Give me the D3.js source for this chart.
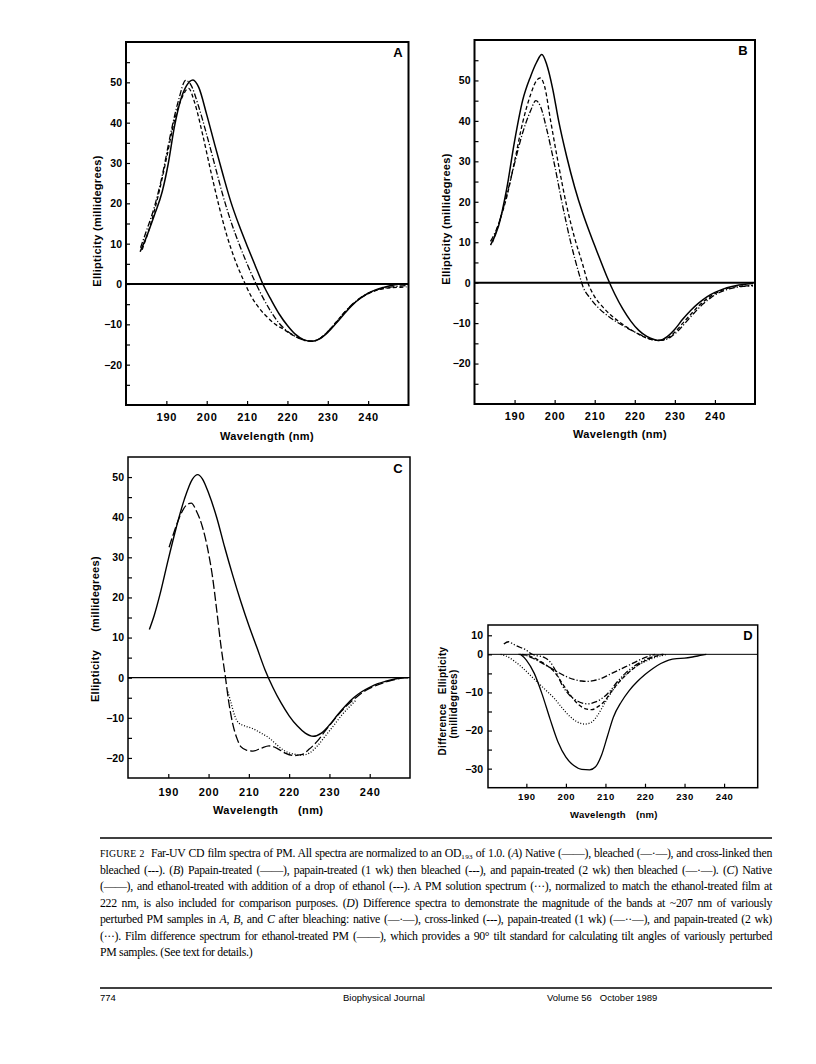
<!DOCTYPE html>
<html><head><meta charset="utf-8">
<script src="https://cdn.jsdelivr.net/npm/d3@7"></script>
<style>body{margin:0;background:#fff}svg{display:block}</style>
</head><body>
<svg id="page" width="816" height="1064"></svg>
<script>
// ---------------- DATA ----------------
const wavelengthTicks = [190, 200, 210, 220, 230, 240];
const abMajorTicks = [-20, -10, 0, 10, 20, 30, 40, 50];
const abMinorTicks = [-25, -15, -5, 5, 15, 25, 35, 45, 55];
const cMajorTicks = [-20, -10, 0, 10, 20, 30, 40, 50];
const cMinorTicks = [-15, -5, 5, 15, 25, 35, 45];
const dMajorTicks = [5, 0, -10, -20, -30];
const dMajorLabels = ["10", "0", "−10", "−20", "−30"];
const dMinorTicks = [-5, -15, -25];

// Panel A
const A_native = [[183.5,8],[185,11.5],[187,17],[189,23],[190.5,30],[192,39],[193.5,45.5],[195,49.2],[196.6,50.6],[198,48.8],[200,42],[202,34.5],[204,27.2],[206,20.3],[208,14.6],[210,9.5],[212,4.6],[214,-0.2],[216,-4],[218,-7.5],[220,-10.3],[222,-12.5],[224,-13.8],[226,-14.2],[228,-13.6],[230,-12],[232,-9.8],[234,-7.5],[236,-5.3],[238,-3.6],[240,-2.3],[242,-1.4],[244,-0.8],[246,-0.3],[248,0],[249.5,0]];
const A_bleached = [[183.6,9],[185,13],[187,19],[189,27],[191,37],[193,45.5],[194.8,50.5],[196,49.5],[198,44],[200,37],[202,29.5],[204,22],[206,15.5],[208,10],[210,5],[212,0.5],[214,-3.5],[216,-7],[218,-9.8],[220,-11.7],[222,-13],[224,-13.9],[226,-14.2],[228,-13.5],[230,-11.8],[232,-9.6],[234,-7.2],[236,-5.1],[238,-3.5],[240,-2.3],[242,-1.5],[244,-1],[246,-0.7],[248,-0.5],[249.5,-0.4]];
const A_crosslinked = [[184,8.5],[186,14.5],[188,22],[190,31],[192,40.5],[194,46.5],[195.5,48.5],[197,45],[199,37],[201,28],[203,19.5],[205,12],[207,6],[209,1.2],[211,-3],[213,-6],[215,-8.2],[217,-10],[219,-11.2],[221,-12.5],[223,-13.5],[225,-14.1],[226,-14.2],[228,-13.5],[230,-11.8],[232,-9.5],[234,-7.2],[236,-5.2],[238,-3.6],[240,-2.4],[242,-1.6],[244,-1.1],[246,-0.9],[248,-0.8],[249.5,-0.7]];

// Panel B
const B_papain = [[184,9.3],[186,14],[188,23],[190,35],[192,45],[194,51],[195.5,54.5],[196.8,56.4],[198,54],[199.5,48],[201,40],[203,31.2],[205,23.6],[207,17.2],[209,11.7],[211,6.6],[213,1.6],[215,-2.8],[217,-6.5],[219,-9.5],[221,-11.8],[223,-13.3],[225,-14.1],[226,-14.3],[228,-13.4],[230,-11.5],[232,-9],[234,-6.8],[236,-5],[238,-3.5],[240,-2.4],[242,-1.6],[244,-1],[246,-0.6],[248,-0.3],[249.5,-0.2]];
const B_papain1wk = [[184.5,10],[186,14.5],[188,21],[190,30],[192,39.5],[194,46.5],[195.5,50],[196.4,50.6],[197.5,48.5],[199,40],[201,29],[203,19],[205,11],[207,4.5],[208.3,0],[210,-3.5],[212,-6],[214,-8],[216,-9.6],[218,-11],[220,-12.2],[222,-13.3],[224,-14],[226,-14.3],[228,-13.8],[230,-12.2],[232,-10],[234,-7.8],[236,-5.7],[238,-4],[240,-2.7],[242,-1.8],[244,-1.2],[246,-0.9],[248,-0.8],[249.5,-0.8]];
const B_papain2wk = [[184,10.2],[186,14.5],[188,21.5],[190,29.5],[192,37],[194,42.5],[195.3,45],[196.5,43.5],[198,38],[200,29],[202,19],[204,10],[206,2.5],[207,-0.8],[209,-4],[211,-6.3],[213,-8],[215,-9.4],[217,-10.6],[219,-11.7],[221,-12.7],[223,-13.6],[225,-14.2],[227,-14.2],[229,-13.4],[231,-11.7],[233,-9.5],[235,-7.3],[237,-5.3],[239,-3.7],[241,-2.5],[243,-1.7],[245,-1.2],[247,-0.9],[249.5,-0.7]];

// Panel C
const C_native = [[185.3,12],[186.5,15.5],[188,21],[190,29.5],[192,37.5],[194,44.5],[196,49.5],[197.3,50.6],[198.5,49.5],[200,46],[202,40],[204,32.5],[206,25.5],[208,19],[210,13],[212,7.5],[214,2],[216,-2.5],[218,-6.3],[220,-9.5],[222,-12],[224,-13.8],[226,-14.6],[228,-13.8],[230,-11.8],[232,-9.3],[234,-7],[236,-5],[238,-3.5],[240,-2.4],[242,-1.5],[244,-0.9],[246,-0.4],[248,0],[249.5,0]];
const C_ethanol = [[190.2,32.5],[191.5,36.5],[193,40.5],[194.5,43],[195.7,43.5],[197,41.5],[198.5,37.5],[200,31],[201,25],[202,17],[203,8.5],[204.2,0],[205,-6],[206,-11.5],[207,-15],[208,-17.2],[209.5,-18.1],[211,-18.3],[213,-17.6],[215,-17],[217,-17.6],[219,-18.8],[221,-19.4],[223,-19.2],[225,-17.8],[227,-15.8],[229,-13.2],[231,-10.7],[233,-8.3],[235,-6.3],[237,-4.6],[239,-3.2],[241,-2.2],[243,-1.4],[245,-0.8],[247,-0.3],[248.5,0]];
const C_solution = [[204.8,-3.5],[205.5,-6],[206.5,-9.5],[207.5,-11.3],[209,-12],[211,-12.7],[213,-13.8],[215,-15],[217,-16.8],[219,-18.3],[221,-19],[223,-19.3],[225,-18.8],[227,-17],[229,-14.5],[231,-12],[233,-9.4],[235,-7.2],[236.5,-5.7]];

// Panel D
const D_ethanol = [[188.5,0],[190,-1.5],[192,-5],[194,-10.5],[196,-17],[198,-23],[200,-27],[202,-29.2],[204,-30.2],[206,-30.3],[207.5,-29.5],[209,-26.5],[210.5,-21.5],[212,-16.5],[214,-12.5],[216,-9.5],[218,-7.2],[220,-5.3],[222,-3.7],[224,-2.4],[226,-1.5],[228,-1.1],[230,-1],[232,-0.7],[234,-0.3],[235.5,0]];
const D_native = [[188,0],[190,-0.3],[192,-1.2],[194,-2.3],[196,-3.5],[198,-4.7],[200,-5.8],[202,-6.6],[204,-7],[205.5,-7.1],[207,-6.9],[209,-6.3],[211,-5.3],[213,-4.3],[215,-3.3],[217,-2.3],[219,-1.3],[221,-0.5],[222.5,0]];
const D_crosslinked = [[189,0],[191,-0.5],[193,-1.5],[195,-2.8],[197,-4.5],[199,-7.5],[201,-10.5],[203,-13],[205,-14.3],[206.5,-14.5],[208,-13.8],[210,-12],[211,-10.5],[213,-7.8],[215,-5.6],[217,-3.8],[219,-2.3],[221,-1.2],[223,-0.4],[224.7,0]];
const D_papain1wk = [[184.3,2.7],[185.5,3.3],[186.8,2.6],[188.5,1.8],[189.7,1.3],[191,0.3],[192.5,-0.3],[194.5,-0.8],[196,-2],[197.5,-4.5],[199,-8],[201,-10.8],[203,-12.3],[205.5,-13],[207.5,-12.5],[209.5,-11.3],[211,-9.8],[213,-7.2],[215,-5],[217,-3.3],[219,-2],[221,-1],[223,-0.3],[224.5,0]];
const D_papain2wk = [[183.5,0],[185,-0.5],[187,-1.8],[189,-3.5],[191,-5.5],[193,-7.5],[195,-9.5],[197,-11.5],[199,-14],[201,-16.3],[203,-17.8],[204.8,-18.3],[206.5,-17.8],[208,-16],[210,-12.5],[212,-9.2],[214,-6.6],[216,-4.6],[218,-3],[220,-1.9],[222,-1],[224,-0.4],[225.5,0]];

// ---------------- DRAWING ----------------
const svg = d3.select("#page");
const SANS = "'Liberation Sans', Arial, Helvetica, sans-serif";
const SERIF = "'Liberation Serif', 'DejaVu Serif', 'Times New Roman', serif";
const SOLID = null, DASH = "4,2.5", DASHDOT = "6,2,1.2,2", DOT = "1,1.8", DASHDOTDOT = "6,2,1.2,2,1.2,2", LONGDASH = "9,3";

function drawPanel(cfg) {
  const x = d3.scaleLinear().domain(cfg.xd).range(cfg.xr);
  const y = d3.scaleLinear().domain(cfg.yd).range(cfg.yr);
  const g = svg.append("g");
  const x0 = cfg.xr[0], x1 = cfg.xr[1], yT = cfg.yr[1], yB = cfg.yr[0];

  g.append("line").attr("x1", x0).attr("x2", x1).attr("y1", y(0)).attr("y2", y(0))
    .attr("stroke", "#000").attr("stroke-width", cfg.zeroW);

  const line = d3.line().x(d => x(d[0])).y(d => y(d[1])).curve(d3.curveMonotoneX);
  cfg.series.forEach(s => {
    g.append("path").attr("d", line(s.data)).attr("fill", "none")
      .attr("stroke", "#000").attr("stroke-width", s.w || 1.3)
      .attr("stroke-dasharray", s.dash).attr("stroke-linejoin", "round");
  });

  const ya = d3.axisLeft(y).tickValues(cfg.yMajor).tickSize(-4).tickPadding(cfg.yPad)
    .tickFormat(cfg.yLabels ? ((d, i) => cfg.yLabels[i]) : d3.format("d"));
  const yg = g.append("g").attr("transform", `translate(${x0},0)`).call(ya);
  yg.select(".domain").remove();
  yg.selectAll("text").attr("font-family", SANS).attr("font-weight", "bold").attr("font-size", cfg.yTickFs);
  yg.selectAll("line").attr("stroke-width", 1.2);
  const ym = d3.axisLeft(y).tickValues(cfg.yMinor).tickSize(-4).tickFormat("");
  const ymg = g.append("g").attr("transform", `translate(${x0},0)`).call(ym);
  ymg.select(".domain").remove();
  ymg.selectAll("line").attr("stroke-width", 1.2);

  const xa = d3.axisBottom(x).tickValues(wavelengthTicks).tickSize(-4).tickPadding(cfg.xPad).tickFormat(d3.format("d"));
  const xg = g.append("g").attr("transform", `translate(0,${yB})`).call(xa);
  xg.select(".domain").remove();
  xg.selectAll("text").attr("font-family", SANS).attr("font-weight", "bold").attr("font-size", cfg.xTickFs)
    .attr("letter-spacing", cfg.xTickLs);
  xg.selectAll("line").attr("stroke-width", 1.2);

  g.append("rect").attr("x", x0).attr("y", yT).attr("width", x1 - x0).attr("height", yB - yT)
    .attr("fill", "none").attr("stroke", "#000").attr("stroke-width", cfg.frameW);

  g.append("text").attr("x", cfg.letterPos[0]).attr("y", cfg.letterPos[1]).attr("text-anchor", "middle")
    .attr("font-family", SANS).attr("font-weight", "bold").attr("font-size", 13).text(cfg.letter);

  cfg.xTitle.forEach(t => {
    g.append("text").attr("x", t.x).attr("y", t.y).attr("text-anchor", t.anchor || "middle")
      .attr("font-family", SANS).attr("font-weight", "bold").attr("font-size", t.fs || 11)
      .attr("letter-spacing", t.ls == null ? 0.4 : t.ls).text(t.text);
  });
  cfg.yTitle.forEach(t => {
    g.append("text").attr("transform", `translate(${t.x},${t.y}) rotate(-90)`).attr("text-anchor", "middle")
      .attr("font-family", SANS).attr("font-weight", "bold").attr("font-size", t.fs || 11)
      .attr("letter-spacing", 0.3).attr("xml:space", "preserve").style("white-space", "pre").text(t.text);
  });
}

drawPanel({
  letter: "A", letterPos: [398, 57], xd: [180, 250], xr: [126, 408.5], yd: [-30, 60], yr: [405, 42],
  yMajor: abMajorTicks, yMinor: abMinorTicks, yPad: 4, xPad: 8.5, yTickFs: 10.5, xTickFs: 11, xTickLs: 0.8, frameW: 2, zeroW: 2,
  series: [{data: A_native, dash: SOLID, w: 1.5}, {data: A_bleached, dash: DASHDOT}, {data: A_crosslinked, dash: DASH}],
  xTitle: [{text: "Wavelength (nm)", x: 267, y: 440}],
  yTitle: [{text: "Ellipticity (millidegrees)", x: 101, y: 221}]
});
drawPanel({
  letter: "B", letterPos: [743, 55], xd: [180, 250], xr: [474.5, 755], yd: [-30, 60], yr: [404, 40],
  yMajor: abMajorTicks, yMinor: abMinorTicks, yPad: 4, xPad: 8.5, yTickFs: 10.5, xTickFs: 11, xTickLs: 0.8, frameW: 2, zeroW: 2,
  series: [{data: B_papain, dash: SOLID, w: 1.5}, {data: B_papain1wk, dash: DASH}, {data: B_papain2wk, dash: DASHDOT}],
  xTitle: [{text: "Wavelength (nm)", x: 620, y: 438}],
  yTitle: [{text: "Ellipticity (millidegrees)", x: 450, y: 219}]
});
drawPanel({
  letter: "C", letterPos: [398, 473], xd: [180, 250], xr: [128, 410], yd: [-25, 55], yr: [778, 457],
  yMajor: cMajorTicks, yMinor: cMinorTicks, yPad: 4, xPad: 10, yTickFs: 10.5, xTickFs: 11, xTickLs: 0.8, frameW: 1.5, zeroW: 1.2,
  series: [{data: C_native, dash: SOLID, w: 1.4}, {data: C_ethanol, dash: LONGDASH}, {data: C_solution, dash: DOT}],
  xTitle: [{text: "Wavelength", x: 213, y: 814, anchor: "start"}, {text: "(nm)", x: 298, y: 814, anchor: "start"}],
  yTitle: [{text: "Ellipticity", x: 99, y: 676}, {text: "(millidegrees)", x: 99, y: 594}]
});
drawPanel({
  letter: "D", letterPos: [748, 640], xd: [180.3, 248.5], xr: [488, 757.7], yd: [-35, 7.7], yr: [787.7, 625],
  yMajor: dMajorTicks, yLabels: dMajorLabels, yMinor: dMinorTicks, yPad: 5, xPad: 6, yTickFs: 10.5, xTickFs: 9.5, xTickLs: 0.6, frameW: 1.5, zeroW: 1,
  series: [{data: D_ethanol, dash: SOLID, w: 1.3}, {data: D_native, dash: DASHDOT}, {data: D_crosslinked, dash: DASH},
           {data: D_papain1wk, dash: DASHDOTDOT}, {data: D_papain2wk, dash: DOT}],
  xTitle: [{text: "Wavelength", x: 570, y: 818, anchor: "start", fs: 9.5, ls: 0.3}, {text: "(nm)", x: 636, y: 818, anchor: "start", fs: 9.5, ls: 0.3}],
  yTitle: [{text: "Difference   Ellipticity", x: 446, y: 701, fs: 10}, {text: "(millidegrees)", x: 457, y: 704, fs: 10}]
});

// ---------------- CAPTION ----------------
svg.append("line").attr("x1", 100).attr("x2", 772).attr("y1", 838).attr("y2", 838).attr("stroke", "#000").attr("stroke-width", 1.3);
const captionLines = [
  [["FIGURE 2", "sc"], ["  Far-UV CD film spectra of PM. All spectra are normalized to an OD₁₉₃ of 1.0. (", ""], ["A", "i"], [") Native (——), bleached (—·—), and cross-linked then", ""]],
  [["bleached (---). (", ""], ["B", "i"], [") Papain-treated (——), papain-treated (1 wk) then bleached (---), and papain-treated (2 wk) then bleached (—·—). (", ""], ["C", "i"], [") Native", ""]],
  [["(——), and ethanol-treated with addition of a drop of ethanol (---). A PM solution spectrum (···), normalized to match the ethanol-treated film at", ""]],
  [["222 nm, is also included for comparison purposes. (", ""], ["D", "i"], [") Difference spectra to demonstrate the magnitude of the bands at ~207 nm of variously", ""]],
  [["perturbed PM samples in ", ""], ["A", "i"], [", ", ""], ["B", "i"], [", and ", ""], ["C", "i"], [" after bleaching: native (—·—), cross-linked (---), papain-treated (1 wk) (—··—), and papain-treated (2 wk)", ""]],
  [["(···). Film difference spectrum for ethanol-treated PM (——), which provides a 90° tilt standard for calculating tilt angles of variously perturbed", ""]],
  [["PM samples. (See text for details.)", ""]]
];
const CAP_LS = -0.3;
const capTexts = captionLines.map((segs, i) => {
  const t = svg.append("text").attr("x", 100).attr("y", 857 + i * 16.5)
    .attr("font-family", SERIF).attr("font-size", 11.5).attr("fill", "#000")
    .attr("letter-spacing", CAP_LS)
    .attr("xml:space", "preserve").style("white-space", "pre");
  segs.forEach(([txt, st]) => {
    const ts = t.append("tspan").text(txt);
    if (st === "i") ts.attr("font-style", "italic");
    if (st === "sc") ts.attr("font-size", 9.5).attr("letter-spacing", 0.2);
  });
  return t;
});
// common font size so every line fits, then justify with word-spacing
const maxW = d3.max(capTexts.slice(0, -1), t => t.node().getComputedTextLength());
const capFs = Math.min(11.8, 11.5 * 668 / maxW);
capTexts.forEach(t => t.attr("font-size", capFs));
capTexts.forEach((t, i) => {
  t.selectAll("tspan").filter(function(){ return d3.select(this).attr("font-size"); })
    .attr("font-size", capFs * 9.5 / 11.5);
  if (i === capTexts.length - 1) return;
  const w = t.node().getComputedTextLength();
  const spaces = (t.text().match(/ /g) || []).length;
  t.attr("word-spacing", ((672 - w) / spaces).toFixed(3));
});

// ---------------- FOOTER ----------------
svg.append("line").attr("x1", 100).attr("x2", 772).attr("y1", 988).attr("y2", 988).attr("stroke", "#000").attr("stroke-width", 1.3);
[["774", 100], ["Biophysical Journal", 343], ["Volume 56   October 1989", 547]].forEach(([t, x]) => {
  svg.append("text").attr("x", x).attr("y", 1001).attr("font-family", SANS).attr("font-size", 9.5)
    .attr("xml:space", "preserve").style("white-space", "pre").text(t);
});
</script>
</body></html>
